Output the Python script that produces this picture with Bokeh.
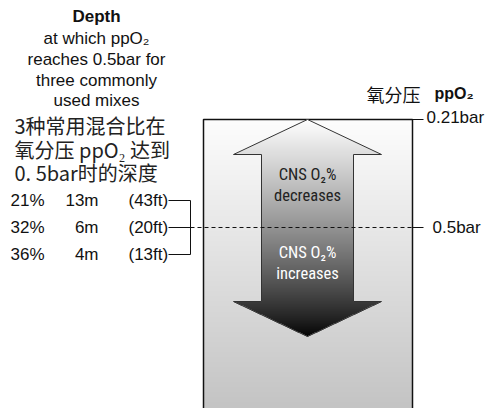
import numpy as np
from bokeh.plotting import figure
from bokeh.models import Range1d
from bokeh.core.properties import value
from bokeh.embed import file_html
from bokeh.resources import INLINE

# ---------------- data ----------------
mixes = ["21%", "32%", "36%"]
depth_m = ["13m", "6m", "4m"]
depth_ft = ["(43ft)", "(20ft)", "(13ft)"]
ppo2_levels = ["0.21bar", "0.5bar"]
title_bold = "Depth"
title_en = ["at which ppO₂", "reaches 0.5bar for", "three commonly", "used mixes"]
title_zh = ["3种常用混合比在", "氧分压 ppO₂ 达到", "0. 5bar时的深度"]
axis_title_zh = "氧分压"
axis_title_en = "ppO₂"
arrow_up_text = ["CNS O₂%", "decreases"]
arrow_down_text = ["CNS O₂%", "increases"]

SANS = value("Liberation Sans")
NARROW = value("'Liberation Sans Narrow', 'Roboto Condensed', 'Liberation Sans', sans-serif")
CJK = value("'Noto Sans CJK SC'")

W, H = 491, 408
p = figure(width=W, height=H, x_range=Range1d(0, W), y_range=Range1d(H, 0),
           output_backend="svg", toolbar_location=None, min_border=0)
p.axis.visible = False
p.grid.visible = False
p.outline_line_color = None

# ---------------- layout (screen pixels) ----------------
RX0, RX1, RY0, RY1 = 203, 412, 119, 408
Y21, Y05 = 119, 227

# rectangle gradient
rh, rw = RY1 - RY0, RX1 - RX0
t = np.linspace(0, 1, rh)[:, None] * np.ones((1, rw))
g = (253 - (253 - 196) * t).astype(np.uint32)
img = ((255 << 24) | (g << 16) | (g << 8) | g).astype(np.uint32)
p.image_rgba(image=[img], x=RX0, y=RY0, dw=rw, dh=rh)
p.line([RX0, RX0, RX1, RX1], [RY1 + 10, RY0, RY0, RY1 + 10], line_color="#111111", line_width=1.5)

# arrow
AX = 307
ax_top, ax_wing_t, ax_wing_b, ax_tip = 119, 154, 301, 336
wl, wr, sl, sr = 233, 381, 261, 353
px = [AX, wr, sr, sr, wr, AX, wl, sl, sl, wl]
py = [ax_top, ax_wing_t, ax_wing_t, ax_wing_b, ax_wing_b, ax_tip, ax_wing_b, ax_wing_b, ax_wing_t, ax_wing_t]
ah, aw = ax_tip - ax_top, wr - wl
ys = ax_top + np.arange(ah) + 0.5
xs = wl + np.arange(aw) + 0.5
XX, YY = np.meshgrid(xs, ys)
poly = np.array(list(zip(px, py)), dtype=float)
inside = np.zeros(XX.shape, dtype=bool)
n = len(poly)
for i in range(n):
    x1, y1 = poly[i]
    x2, y2 = poly[(i + 1) % n]
    cond = ((y1 > YY) != (y2 > YY))
    xint = (x2 - x1) * (YY - y1) / (y2 - y1 + 1e-12) + x1
    inside ^= cond & (XX < xint)
tt = (YY - ax_top) / ah
gray = (255 * np.clip(1 - tt, 0, 1) ** 0.8).astype(np.uint32)
alpha = np.where(inside, 255, 0).astype(np.uint32)
aimg = ((alpha << 24) | (gray << 16) | (gray << 8) | gray).astype(np.uint32)
p.image_rgba(image=[aimg], x=wl, y=ax_top, dw=aw, dh=ah)
p.patch(px, py, fill_color=None, line_color="#333333", line_width=1)

# arrow texts
p.text(x=[AX, AX], y=[174, 195], text=arrow_up_text, text_align="center", text_baseline="middle",
       text_font=NARROW, text_font_size="16.5px", text_color="#222222")
p.text(x=[AX, AX], y=[252, 273], text=arrow_down_text, text_align="center", text_baseline="middle",
       text_font=NARROW, text_font_size="16.5px", text_color="#ffffff")

# ppO2 level lines and labels
p.line([RX1, 423], [Y21, Y21], line_color="#111111", line_width=1)
p.line([RX1, 423], [Y05, Y05], line_color="#111111", line_width=1)
p.line([190, RX1], [Y05, Y05], line_color="#111111", line_width=1, line_dash="4 3")
p.text(x=[426, 432], y=[Y21 - 2, Y05], text=ppo2_levels, text_align="left", text_baseline="middle",
       text_font=SANS, text_font_size="17px", text_color="#111111")

# axis title
p.text(x=[420], y=[93], text=[axis_title_zh], text_align="right", text_baseline="middle",
       text_font=CJK, text_font_size="18px", text_color="#111111")
p.text(x=[434], y=[93], text=[axis_title_en], text_align="left", text_baseline="middle",
       text_font=SANS, text_font_size="16px", text_font_style="bold", text_color="#111111")

# left title block
p.text(x=[96], y=[16], text=[title_bold], text_align="center", text_baseline="middle",
       text_font=SANS, text_font_size="17px", text_font_style="bold", text_color="#111111")
p.text(x=[96] * 4, y=[38, 59, 80, 100], text=title_en, text_align="center", text_baseline="middle",
       text_font=SANS, text_font_size="17px", text_color="#111111")
p.text(x=[14] * 3, y=[125, 149, 172], text=title_zh, text_align="left", text_baseline="middle",
       text_font=CJK, text_font_size="20px", text_color="#222222")

# table
rows_y = [200, 227, 254]
p.text(x=[10] * 3, y=rows_y, text=mixes, text_align="left", text_baseline="middle",
       text_font=SANS, text_font_size="17px", text_color="#111111")
p.text(x=[98] * 3, y=rows_y, text=depth_m, text_align="right", text_baseline="middle",
       text_font=SANS, text_font_size="17px", text_color="#111111")
p.text(x=[128] * 3, y=rows_y, text=depth_ft, text_align="left", text_baseline="middle",
       text_font=SANS, text_font_size="17px", text_color="#111111")
# bracket
p.line([168, 190, 190, 168], [rows_y[0], rows_y[0], rows_y[2], rows_y[2]], line_color="#111111", line_width=1)
p.line([168, 190], [rows_y[1], rows_y[1]], line_color="#111111", line_width=1)

open("out.html", "w").write(file_html(p, INLINE))
